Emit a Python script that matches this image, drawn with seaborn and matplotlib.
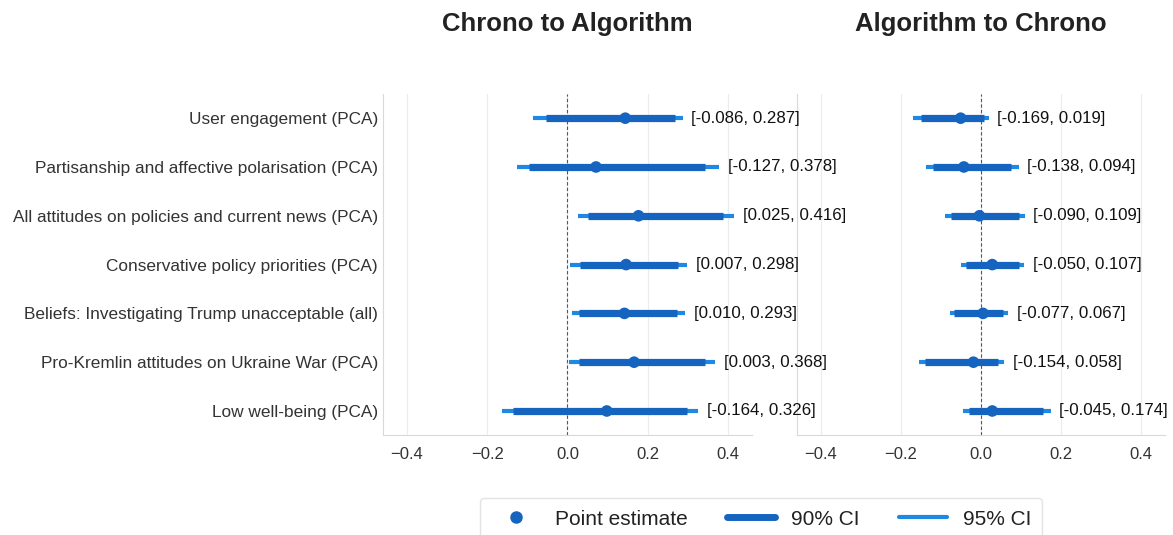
import numpy as np
import pandas as pd
import matplotlib
matplotlib.use("Agg")
import matplotlib.pyplot as plt
from matplotlib.lines import Line2D
import seaborn as sns

# Outcomes, top to bottom
outcomes = [
    "User engagement (PCA)",
    "Partisanship and affective polarisation (PCA)",
    "All attitudes on policies and current news (PCA)",
    "Conservative policy priorities (PCA)",
    "Beliefs: Investigating Trump unacceptable (all)",
    "Pro-Kremlin attitudes on Ukraine War (PCA)",
    "Low well-being (PCA)",
]

# Chrono -> Algorithm switch
c2a_est = [0.144, 0.071, 0.177, 0.146, 0.142, 0.166, 0.098]
c2a_lo90 = [-0.053, -0.095, 0.052, 0.030, 0.029, 0.029, -0.136]
c2a_hi90 = [0.267, 0.343, 0.388, 0.276, 0.273, 0.343, 0.299]
c2a_lo95 = [-0.086, -0.127, 0.025, 0.007, 0.010, 0.003, -0.164]
c2a_hi95 = [0.287, 0.378, 0.416, 0.298, 0.293, 0.368, 0.326]

# Algorithm -> Chrono switch
a2c_est = [-0.051, -0.043, -0.004, 0.028, 0.005, -0.019, 0.028]
a2c_lo90 = [-0.150, -0.121, -0.076, -0.037, -0.067, -0.139, -0.030]
a2c_hi90 = [0.007, 0.075, 0.094, 0.096, 0.054, 0.042, 0.154]
a2c_lo95 = [-0.169, -0.138, -0.090, -0.050, -0.077, -0.154, -0.045]
a2c_hi95 = [0.019, 0.094, 0.109, 0.107, 0.067, 0.058, 0.174]

panel_titles = ["Chrono to Algorithm", "Algorithm to Chrono"]
xticks = [-0.4, -0.2, 0.0, 0.2, 0.4]

DARK = "#1565C0"
LIGHT = "#1E88E5"

sns.set_style("whitegrid", {"grid.color": "#ececec", "axes.edgecolor": "#d9d9d9"})
plt.rcParams["font.family"] = ["Liberation Sans", "DejaVu Sans"]
plt.rcParams["text.color"] = "#222222"
plt.rcParams["xtick.color"] = "#333333"
plt.rcParams["ytick.color"] = "#333333"

fig = plt.figure(figsize=(11.73, 5.35), dpi=100)
ax_l = fig.add_axes([0.3265, 0.1862, 0.3146, 0.6385])
ax_r = fig.add_axes([0.6795, 0.1862, 0.3137, 0.6385])
# keep the right panel transparent so the left panel's interval labels show through
ax_r.set_facecolor("none")
ax_l.set_zorder(2)
ax_l.set_facecolor("none")

panels = [
    (ax_l, c2a_est, c2a_lo90, c2a_hi90, c2a_lo95, c2a_hi95),
    (ax_r, a2c_est, a2c_lo90, a2c_hi90, a2c_lo95, a2c_hi95),
]

for i, (ax, est, lo90, hi90, lo95, hi95) in enumerate(panels):
    df = pd.DataFrame({
        "outcome": outcomes,
        "pos": np.arange(len(outcomes)),
        "est": est, "lo90": lo90, "hi90": hi90, "lo95": lo95, "hi95": hi95,
    })
    ax.axvline(0, color="#555555", lw=0.8, ls=(0, (3, 2)), zorder=1)
    ax.hlines(df["pos"], df["lo95"], df["hi95"], color=LIGHT, lw=3, zorder=2)
    ax.hlines(df["pos"], df["lo90"], df["hi90"], color=DARK, lw=5.2, zorder=3)
    sns.scatterplot(data=df, x="est", y="pos", ax=ax, color=DARK, s=70,
                    edgecolor="none", zorder=4, legend=False)
    for _, r in df.iterrows():
        ax.text(r["hi95"] + 0.022, r["pos"], f"[{r['lo95']:.3f}, {r['hi95']:.3f}]",
                va="center", ha="left", fontsize=12.2, color="#111111",
                zorder=5, clip_on=False)

    ax.set_xlim(-0.46, 0.46)
    ax.set_ylim(len(outcomes) - 0.5, -0.5)
    ax.set_xticks(xticks)
    ax.set_xticklabels([f"{t:.1f}".replace("-", "\u2212") for t in xticks])
    ax.tick_params(axis="x", labelsize=12, pad=5)
    ax.grid(axis="y", visible=False)
    ax.set_xlabel("")
    ax.set_ylabel("")
    ax.set_title(panel_titles[i], fontsize=18.5, fontweight="bold", pad=45.5,
                 color="#222222")
    for side in ["top", "right"]:
        ax.spines[side].set_visible(False)
    ax.set_yticks(range(len(outcomes)))
    if i == 0:
        ax.set_yticklabels(outcomes, fontsize=12.4)
        ax.tick_params(axis="y", pad=0)
    else:
        ax.set_yticklabels([])

handles = [
    Line2D([], [], marker="o", ls="none", color=DARK, markersize=8),
    Line2D([], [], color=DARK, lw=5),
    Line2D([], [], color=LIGHT, lw=3),
]
labels = ["Point estimate", "90% CI", "95% CI"]
fig.legend(handles, labels, loc="upper center", bbox_to_anchor=(0.649, 0.069),
           ncol=3, fontsize=15, frameon=True, handlelength=2.3,
           handletextpad=0.75, columnspacing=1.9, edgecolor="#dddddd",
           fancybox=True, borderpad=0.55, borderaxespad=0)

fig.savefig("out.png", dpi=100)
